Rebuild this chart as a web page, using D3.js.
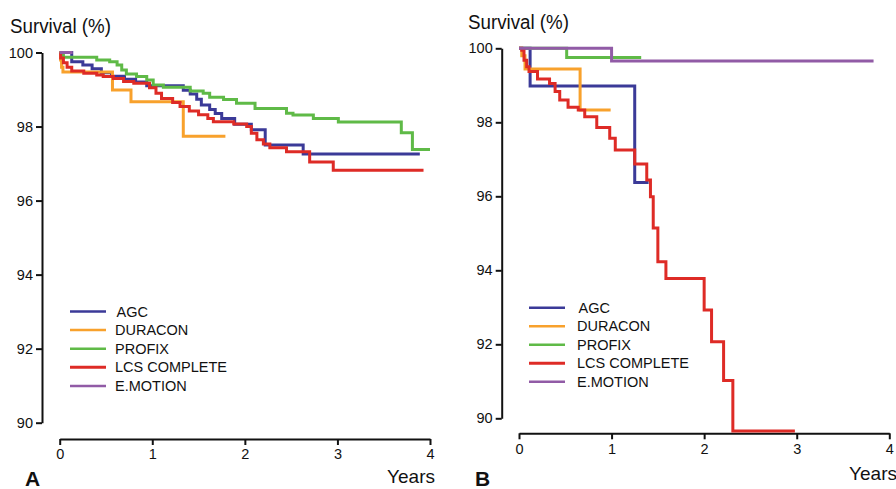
<!DOCTYPE html>
<html>
<head>
<meta charset="utf-8">
<script src="https://cdn.jsdelivr.net/npm/d3@7"></script>
<style>
  html, body { margin: 0; padding: 0; background: #fff; }
  svg { display: block; }
  text { font-family: "Liberation Sans", Arial, Helvetica, sans-serif; fill: #111; }
</style>
</head>
<body>
<svg id="chart" width="896" height="489"></svg>
<script>
// ---------- DATA ----------
const seriesNames = ["AGC", "DURACON", "PROFIX", "LCS COMPLETE", "E.MOTION"];
const seriesColors = ["#3b3a98", "#f8a12c", "#5fba47", "#de2b26", "#915ba6"];
const xTicks = [0, 1, 2, 3, 4];
const yTicks = [90, 92, 94, 96, 98, 100];
const yLabel = "Survival (%)";
const xLabel = "Years";
const panelLetters = ["A", "B"];

// Panel A: [years, survival %]
const agcA = [[0,100],[0.13,99.75],[0.25,99.66],[0.35,99.56],[0.45,99.45],[0.56,99.36],[0.70,99.28],[0.82,99.2],[0.94,99.1],[1.335,98.98],[1.41,98.88],[1.48,98.74],[1.53,98.58],[1.62,98.46],[1.68,98.35],[1.75,98.22],[1.89,98.06],[2.07,97.91],[2.22,97.5],[2.63,97.26],[3.89,97.26]];
const duraconA = [[0,100],[0.01,99.8],[0.02,99.6],[0.035,99.47],[0.57,98.99],[0.77,98.67],[1.335,97.74],[1.79,97.74]];
const profixA = [[0,100],[0.04,99.87],[0.40,99.80],[0.54,99.75],[0.62,99.66],[0.67,99.53],[0.72,99.42],[0.83,99.35],[0.94,99.26],[1.01,99.12],[1.12,99.06],[1.41,98.96],[1.55,98.9],[1.62,98.79],[1.77,98.73],[1.91,98.63],[2.11,98.49],[2.45,98.36],[2.52,98.31],[2.74,98.22],[3.01,98.12],[3.69,97.83],[3.81,97.38],[4.0,97.38]];
const lcsA = [[0,100],[0.01,99.85],[0.04,99.72],[0.08,99.6],[0.13,99.5],[0.26,99.44],[0.40,99.39],[0.47,99.35],[0.58,99.30],[0.69,99.22],[0.80,99.17],[0.97,99.05],[1.04,98.9],[1.1,98.76],[1.22,98.65],[1.3,98.54],[1.4,98.42],[1.5,98.32],[1.6,98.22],[1.66,98.13],[1.88,98.07],[2.02,98.0],[2.07,97.82],[2.13,97.64],[2.2,97.53],[2.27,97.43],[2.45,97.32],[2.70,97.04],[2.955,96.82],[3.93,96.82]];
const emotionA = [[0,100],[0.14,100]];

// Panel B
const agcB = [[0,100],[0.12,98.98],[1.25,96.37],[1.40,96.37]];
const duraconB = [[0,100],[0.03,99.8],[0.065,99.44],[0.66,98.33],[0.99,98.33]];
const profixB = [[0,100],[0.515,99.75],[1.32,99.75]];
const lcsB = [[0,100],[0.03,99.95],[0.054,99.68],[0.083,99.5],[0.108,99.37],[0.20,99.17],[0.33,99.05],[0.39,98.83],[0.44,98.6],[0.53,98.41],[0.64,98.33],[0.71,98.15],[0.84,97.86],[0.98,97.57],[1.04,97.25],[1.25,96.87],[1.38,96.44],[1.42,95.99],[1.45,95.14],[1.50,94.23],[1.587,93.78],[2.0,92.93],[2.08,92.07],[2.21,91.02],[2.31,89.66],[2.98,89.66]];
const emotionB = [[0,100],[1.0,99.66],[3.83,99.66]];

const panelSeries = [
  [agcA, duraconA, profixA, lcsA, emotionA],
  [agcB, duraconB, profixB, lcsB, emotionB]
];

// ---------- LAYOUT ----------
const panels = [
  { x0: 59.7, x1: 430, yTop: 52.5, yBot: 422.7, yAxisX: 42, xAxisY: 439,
    titleX: 10, titleY: 33, yearsX: 435, yearsY: 483, letterX: 25, letterY: 486,
    legX1: 70, legX2: 106, legTextX: 115, legY0: 311.5, legDy: 18.6 },
  { x0: 519, x1: 889.3, yTop: 48.3, yBot: 418.3, yAxisX: 501.7, xAxisY: 433.3,
    titleX: 468, titleY: 29, yearsX: 897, yearsY: 480, letterX: 475, letterY: 486,
    legX1: 529, legX2: 565, legTextX: 577, legY0: 307.7, legDy: 18.5 }
];

const svg = d3.select("#chart");
const fontFam = "'Liberation Sans', Arial, sans-serif";

panels.forEach((p, pi) => {
  const g = svg.append("g");
  const x = d3.scaleLinear().domain([0, 4]).range([p.x0, p.x1]);
  const y = d3.scaleLinear().domain([90, 100]).range([p.yBot, p.yTop]);

  // Y axis
  const yAxis = d3.axisLeft(y).tickValues(yTicks).tickFormat(d3.format("d"))
    .tickSize(6).tickSizeOuter(0).tickPadding(3);
  const ya = g.append("g").attr("transform", `translate(${p.yAxisX},0)`).call(yAxis);
  ya.select(".domain").attr("stroke", "#111").attr("stroke-width", 2);
  ya.selectAll(".tick line").attr("stroke", "#111").attr("stroke-width", 2);
  ya.selectAll(".tick text").attr("font-size", 14.5).attr("fill", "#111").style("font-family", fontFam);

  // X axis
  const xAxis = d3.axisBottom(x).tickValues(xTicks).tickFormat(d3.format("d"))
    .tickSize(6).tickSizeOuter(0).tickPadding(4);
  const xa = g.append("g").attr("transform", `translate(0,${p.xAxisY})`).call(xAxis);
  xa.select(".domain").attr("stroke", "#111").attr("stroke-width", 2);
  xa.selectAll(".tick line").attr("stroke", "#111").attr("stroke-width", 2);
  xa.selectAll(".tick text").attr("font-size", 14.5).attr("fill", "#111").style("font-family", fontFam);

  // Labels
  g.append("text").attr("x", p.titleX).attr("y", p.titleY).attr("font-size", 19.5)
    .attr("textLength", 101).attr("lengthAdjust", "spacingAndGlyphs").text(yLabel);
  g.append("text").attr("x", p.yearsX).attr("y", p.yearsY).attr("font-size", 19)
    .attr("text-anchor", "end").text(xLabel);
  g.append("text").attr("x", p.letterX).attr("y", p.letterY).attr("font-size", 21)
    .attr("font-weight", "bold").text(panelLetters[pi]);

  // Curves
  const line = d3.line().x(d => x(d[0])).y(d => y(d[1])).curve(d3.curveStepAfter);
  panelSeries[pi].forEach((data, si) => {
    g.append("path").datum(data)
      .attr("fill", "none")
      .attr("stroke", seriesColors[si])
      .attr("stroke-width", 3)
      .attr("stroke-linejoin", "miter")
      .attr("d", line);
  });

  // Legend
  seriesNames.forEach((name, si) => {
    const ly = p.legY0 + si * p.legDy;
    g.append("line").attr("x1", p.legX1).attr("x2", p.legX2).attr("y1", ly).attr("y2", ly)
      .attr("stroke", seriesColors[si]).attr("stroke-width", si === 3 ? 3 : 2.5);
    g.append("text").attr("x", p.legTextX + (si === 0 ? 1.5 : 0)).attr("y", ly)
      .attr("dy", "0.35em").attr("font-size", 14.5).text(name);
  });
});
</script>
</body>
</html>
